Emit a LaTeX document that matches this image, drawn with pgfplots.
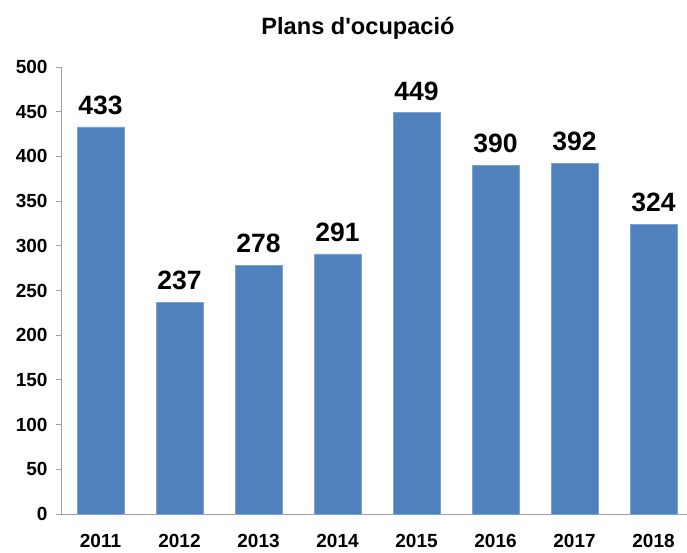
\documentclass[border=0pt]{standalone}
\usepackage{fontspec}
\setmainfont{Liberation Sans}
\newfontfamily\titlefont{Liberation Sans}
\usepackage{pgfplots}
\pgfplotsset{compat=1.18}
\definecolor{barblue}{HTML}{4F81BD}
\definecolor{baredge}{HTML}{7DA2D1}
\definecolor{axgray}{HTML}{A0A0A0}
\begin{document}
\begin{tikzpicture}
\begin{axis}[
  at={(0pt,0pt)}, anchor=south west,
  scale only axis, width=625.7pt, height=447pt,
  xmin=-0.5, xmax=7.42, ymin=0, ymax=500,
  axis x line*=bottom, axis y line*=left,
  axis line style={draw=axgray, line width=0.9pt},
  tick style={draw=axgray, line width=0.9pt},
  tick align=outside,
  ytick={0,50,...,500},
  major tick length=5pt,
  xtick={0,...,7},
  xticklabels={2011,2012,2013,2014,2015,2016,2017,2018},
  x tick style={draw=none},
  extra x ticks={-0.5,0.5,1.5,2.5,3.5,4.5,5.5,6.5},
  extra x tick labels={},
  extra x tick style={tick style={draw=axgray, line width=0.9pt}, major tick length=6pt},
  /pgf/number format/assume math mode=true,
  yticklabel style={font=\bfseries\fontsize{19}{19}\selectfont, black, xshift=-5pt},
  xticklabel style={font=\bfseries\fontsize{19}{19}\selectfont, black, yshift=-12pt},
  ybar, bar width=47pt,
  nodes near coords,
  nodes near coords style={font=\bfseries\fontsize{26.5}{26.5}\selectfont, black, inner sep=0pt, yshift=12pt},
]
\addplot[fill=barblue, draw=baredge, line width=0.6pt] coordinates {
  (0,433) (1,237) (2,278) (3,291) (4,449) (5,390) (6,392) (7,324)
};
\end{axis}
\node[font=\titlefont\bfseries\fontsize{23.6}{23.6}\selectfont] at (297pt,486pt) {Plans d'ocupació};
\pgfresetboundingbox
\path (-61pt,-38pt) rectangle (626pt,514pt);
\end{tikzpicture}
\end{document}
